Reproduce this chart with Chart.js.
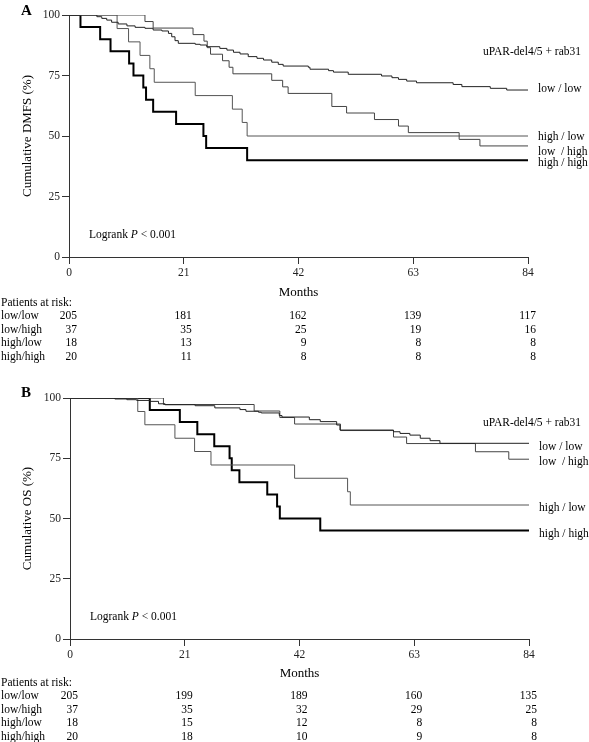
<!DOCTYPE html>
<html>
<head>
<meta charset="utf-8">
<script src="https://cdn.jsdelivr.net/npm/chart.js@4.4.0/dist/chart.umd.min.js"></script>
<style>
  html, body { margin: 0; padding: 0; background: #fff; }
  canvas { position: absolute; left: 0; }
  #dmfsChart { top: 0; }
  #osChart { top: 380px; }
</style>
</head>
<body>
<canvas id="dmfsChart" width="589" height="380"></canvas>
<canvas id="osChart" width="589" height="362"></canvas>
<script>
const months = [0, 21, 42, 63, 84];
const groups = ['low/low', 'low/high', 'high/low', 'high/high'];
const curveLabels = ['low / low', 'low  / high', 'high / low', 'high / high'];

// Kaplan-Meier steps: [month, cumulative %]
const dmfsLowLow = [[0, 100], [5.1, 99.3], [6.0, 98.6], [6.9, 97.9], [7.8, 97.0], [9.0, 96.3], [10.6, 95.5],
  [12.1, 94.9], [13.9, 94.5], [15.4, 93.8], [17.0, 93.4], [18.2, 92.4], [18.8, 91.0], [19.4, 89.4], [20.0, 88.3],
  [23.1, 87.9], [24.0, 87.6], [25.2, 86.9], [27.6, 86.2], [28.9, 85.5], [30.1, 84.6], [31.3, 83.9], [32.8, 82.8],
  [34.4, 82.1], [35.6, 81.4], [37.1, 80.5], [38.3, 79.6], [39.2, 78.9], [43.8, 78.4], [44.1, 77.6], [47.5, 77.0],
  [48.4, 76.4], [51.1, 75.5], [57.2, 74.8], [59.1, 74.1], [60.3, 73.4], [61.8, 72.7], [63.6, 72.0], [70.3, 71.3],
  [71.9, 70.4], [77.1, 69.7], [80.1, 69.0], [84, 69.0]];
const dmfsLowHigh = [[0, 100], [13.9, 97.3], [15.4, 94.6], [22.7, 91.9], [24.7, 89.2], [25.3, 86.5], [25.9, 83.8],
  [28.1, 81.1], [29.3, 78.4], [30.0, 75.7], [37.1, 73.0], [39.1, 70.3], [40.1, 67.6], [48.1, 62.2], [50.8, 59.5],
  [55.9, 56.8], [60.3, 54.1], [62.1, 51.4], [71.4, 48.6], [75.2, 45.9], [84, 45.9]];
const dmfsHighLow = [[0, 100], [8.8, 94.4], [10.9, 88.9], [13.0, 83.3], [14.8, 77.8], [15.6, 72.2], [23.1, 66.7],
  [29.9, 61.1], [31.7, 55.6], [32.6, 50.0], [84, 50.0]];
const dmfsHighHigh = [[0, 100], [2.1, 95], [5.7, 90], [7.6, 85], [11.0, 80], [11.8, 75], [13.6, 70], [14.1, 65],
  [15.4, 60], [19.6, 55], [24.6, 50], [25.1, 45], [32.6, 40], [84, 40]];

const osLowLow = [[0, 100], [8.2, 99.6], [10.4, 99.3], [12.2, 99.0], [14.6, 98.6], [16.2, 97.6], [17.4, 97.2],
  [22.9, 96.8], [26.5, 95.9], [31.1, 95.2], [32.2, 94.5], [34.5, 94.1], [35.0, 93.8], [38.3, 92.7], [38.8, 92.1],
  [43.8, 91.0], [45.8, 90.2], [48.8, 88.8], [49.4, 86.7], [59.2, 86.0], [60.4, 85.3], [62.2, 84.6], [64.1, 83.3],
  [65.9, 82.3], [67.7, 81.2], [84, 81.2]];
const osLowHigh = [[0, 100], [17.1, 97.3], [33.7, 94.6], [38.4, 91.9], [41.1, 89.2], [49.5, 86.5], [59.2, 83.8],
  [61.6, 81.1], [74.2, 77.7], [80.3, 74.6], [84, 74.6]];
const osHighLow = [[0, 100], [12.4, 94.4], [13.7, 88.9], [19.2, 83.3], [22.8, 77.8], [25.8, 72.2], [41.1, 66.7],
  [50.8, 61.1], [51.3, 55.6], [84, 55.6]];
const osHighHigh = [[0, 100], [14.6, 95], [20.1, 90], [23.3, 85], [26.4, 80], [29.2, 75], [29.6, 70], [31.0, 65],
  [36.1, 60], [37.9, 55], [38.4, 50], [45.8, 45], [84, 45]];

// patients at risk at 0, 21, 42, 63, 84 months
const dmfsRiskLowLow = [205, 181, 162, 139, 117];
const dmfsRiskLowHigh = [37, 35, 25, 19, 16];
const dmfsRiskHighLow = [18, 13, 9, 8, 8];
const dmfsRiskHighHigh = [20, 11, 8, 8, 8];
const osRiskLowLow = [205, 199, 189, 160, 135];
const osRiskLowHigh = [37, 35, 32, 29, 25];
const osRiskHighLow = [18, 15, 12, 8, 8];
const osRiskHighHigh = [20, 18, 10, 9, 8];

const serif = '"Liberation Serif", "Times New Roman", serif';
const lineColors = ['#222', '#444', '#555', '#000'];
const lineWidths = [1, 1, 1, 2];

function panelExtras(o) {
  return {
    id: 'panelExtras',
    afterDraw(chart) {
      const {ctx, chartArea, scales: {x, y}} = chart;
      ctx.save();
      ctx.fillStyle = '#000';
      ctx.textBaseline = 'middle';

      ctx.font = 'bold 15px ' + serif;
      ctx.textAlign = 'left';
      ctx.fillText(o.letter, 21, o.letterY);

      ctx.font = '11.5px ' + serif;
      ctx.textAlign = 'right';
      ctx.fillText('uPAR-del4/5 + rab31', 581, o.titleY);

      ctx.textAlign = 'left';
      o.labelAt.forEach((v, i) => {
        ctx.fillText(curveLabels[i], chartArea.right + 10, y.getPixelForValue(v));
      });

      // Logrank P < 0.001 with italic P
      let lx = chartArea.left + 20;
      const ly = chartArea.bottom - 22;
      ctx.fillText('Logrank ', lx, ly);
      lx += ctx.measureText('Logrank ').width;
      ctx.font = 'italic 11.5px ' + serif;
      ctx.fillText('P', lx, ly);
      lx += ctx.measureText('P').width;
      ctx.font = '11.5px ' + serif;
      ctx.fillText(' < 0.001', lx, ly);

      // risk table
      ctx.fillText('Patients at risk:', 1, 303);
      o.risk.forEach((row, r) => {
        const ry = 316 + r * 13.7;
        ctx.textAlign = 'left';
        ctx.fillText(groups[r], 1, ry);
        ctx.textAlign = 'right';
        row.forEach((n, i) => ctx.fillText(String(n), x.getPixelForValue(months[i]) + 8, ry));
      });
      ctx.restore();
    }
  };
}

function makeChart(id, series, yTitle, geom, extras) {
  return new Chart(document.getElementById(id), {
    type: 'line',
    data: {
      datasets: series.map((pts, i) => ({
        label: groups[i],
        data: pts.map(([t, v]) => ({x: t, y: v})),
        stepped: true,
        borderColor: lineColors[i],
        borderWidth: lineWidths[i],
        pointRadius: 0,
        fill: false
      }))
    },
    options: {
      responsive: false,
      animation: false,
      layout: {padding: {top: geom.top, right: geom.right, left: 0, bottom: 0}},
      plugins: {legend: {display: false}, tooltip: {enabled: false}},
      scales: {
        x: {
          type: 'linear',
          min: 0,
          max: 84,
          ticks: {stepSize: 21, color: '#222', padding: 2, maxRotation: 0, font: {family: serif, size: 11.5}},
          grid: {drawOnChartArea: false, tickLength: 7, color: '#333'},
          border: {color: '#333'},
          title: {display: true, text: 'Months', color: '#000', font: {family: serif, size: 13},
            padding: {top: 0, bottom: geom.monthsPad}},
          afterFit: s => { s.height = geom.xHeight; }
        },
        y: {
          min: 0,
          max: 100,
          ticks: {stepSize: 25, color: '#222', padding: 2, font: {family: serif, size: 11.5}},
          grid: {drawOnChartArea: false, tickLength: 7, color: '#333'},
          border: {color: '#333'},
          title: {display: true, text: yTitle, color: '#000', font: {family: serif, size: 13},
            padding: {top: 20, bottom: 0}},
          afterFit: s => { s.width = geom.yWidth; }
        }
      }
    },
    plugins: [panelExtras(extras)]
  });
}

makeChart('dmfsChart', [dmfsLowLow, dmfsLowHigh, dmfsHighLow, dmfsHighHigh], 'Cumulative DMFS (%)',
  {top: 15, right: 61, yWidth: 69, xHeight: 123, monthsPad: 80},
  {letter: 'A', letterY: 11, titleY: 52, labelAt: [69.4, 43.4, 49.6, 38.8],
    risk: [dmfsRiskLowLow, dmfsRiskLowHigh, dmfsRiskHighLow, dmfsRiskHighHigh]});

makeChart('osChart', [osLowLow, osLowHigh, osHighLow, osHighHigh], 'Cumulative OS (%)',
  {top: 18, right: 60, yWidth: 70, xHeight: 103, monthsPad: 61},
  {letter: 'B', letterY: 13, titleY: 43, labelAt: [79.7, 73.4, 54.4, 43.6],
    risk: [osRiskLowLow, osRiskLowHigh, osRiskHighLow, osRiskHighHigh]});
</script>
</body>
</html>
